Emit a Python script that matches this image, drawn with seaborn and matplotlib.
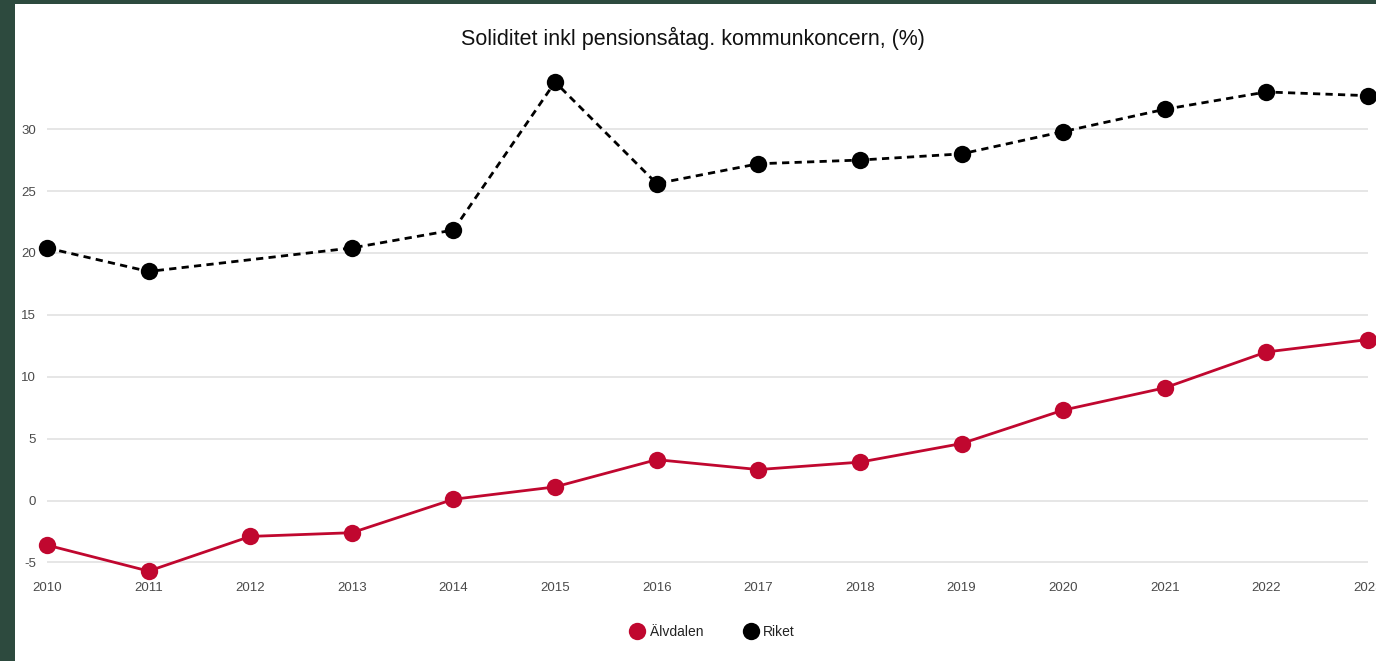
import numpy as np
import pandas as pd
import seaborn as sns
import matplotlib.pyplot as plt

years = list(range(2010, 2024))
alvdalen = [-3.6, -5.7, -2.9, -2.6, 0.1, 1.1, 3.3, 2.5, 3.1, 4.6, 7.3, 9.1, 12.0, 13.0]
riket = [20.4, 18.5, np.nan, 20.4, 21.85, 33.8, 25.6, 27.2, 27.5, 28.0, 29.8, 31.6, 33.0, 32.7]
yticks = [-5, 0, 5, 10, 15, 20, 25, 30]

df = pd.DataFrame({"year": years, "Älvdalen": alvdalen, "Riket": riket})

sns.set_theme(style="white")
plt.rcParams['font.family'] = ['Liberation Sans', 'DejaVu Sans']
plt.rcParams['axes.unicode_minus'] = False

W, H = 1376, 661
fig = plt.figure(figsize=(W / 100, H / 100), dpi=100)
fig.patch.set_facecolor("#2d4a3e")

# white panel
bg = fig.add_axes([15 / W, 0, 1 - 15 / W, (H - 4) / H])
bg.set_facecolor("white")
bg.set_xticks([])
bg.set_yticks([])
for s in bg.spines.values():
    s.set_visible(False)
bg.set_zorder(0)

ax = fig.add_axes([47 / W, 86.2 / H, (1368 - 47) / W, 507.6 / H])
ax.set_zorder(1)
ax.patch.set_alpha(0)

red = "#c0072f"
sns.lineplot(data=df, x="year", y="Älvdalen", ax=ax, color=red, lw=2.0,
             marker="o", markersize=12.5, markeredgewidth=0, label="Älvdalen",
             clip_on=False)
sns.lineplot(data=df.dropna(), x="year", y="Riket", ax=ax, color="black", lw=2.0,
             marker="o", markersize=12.5, markeredgewidth=0, label="Riket",
             clip_on=False)
ax.lines[-1].set_dashes([2.6, 1.9])

ax.set_xlim(2010, 2023)
ax.set_ylim(-6, 35)
ax.set_yticks(yticks)
ax.set_xticks(years)
ax.set_xticklabels([str(y) for y in years])
ax.yaxis.grid(True, color="#e2e2e2", lw=1.2)
ax.xaxis.grid(False)
for s in ax.spines.values():
    s.set_visible(False)
ax.tick_params(axis="x", colors="#4a4a4a", labelsize=9.5, pad=5, length=0)
ax.tick_params(axis="y", colors="#4a4a4a", labelsize=9.5, pad=8, length=0)
ax.set_xlabel("")
ax.set_ylabel("")

ax.legend_.remove()
leg_handles = [plt.Line2D([], [], ls="none", marker="o", markersize=12.5,
                          markeredgewidth=0, color=c) for c in [red, "black"]]
fig.legend(leg_handles, ["Älvdalen", "Riket"], loc="center", bbox_to_anchor=(712 / W, 1 - 632 / H),
           ncol=2, frameon=False, fontsize=10, handletextpad=0.3, columnspacing=2.8,
           handlelength=1.2, labelcolor="#222222")

fig.text(693 / W, 1 - 38 / H, "Soliditet inkl pensionsåtag. kommunkoncern, (%)",
         ha="center", va="center", fontsize=15.5, color="#111111")

fig.savefig("out.png", dpi=100, facecolor=fig.get_facecolor())
